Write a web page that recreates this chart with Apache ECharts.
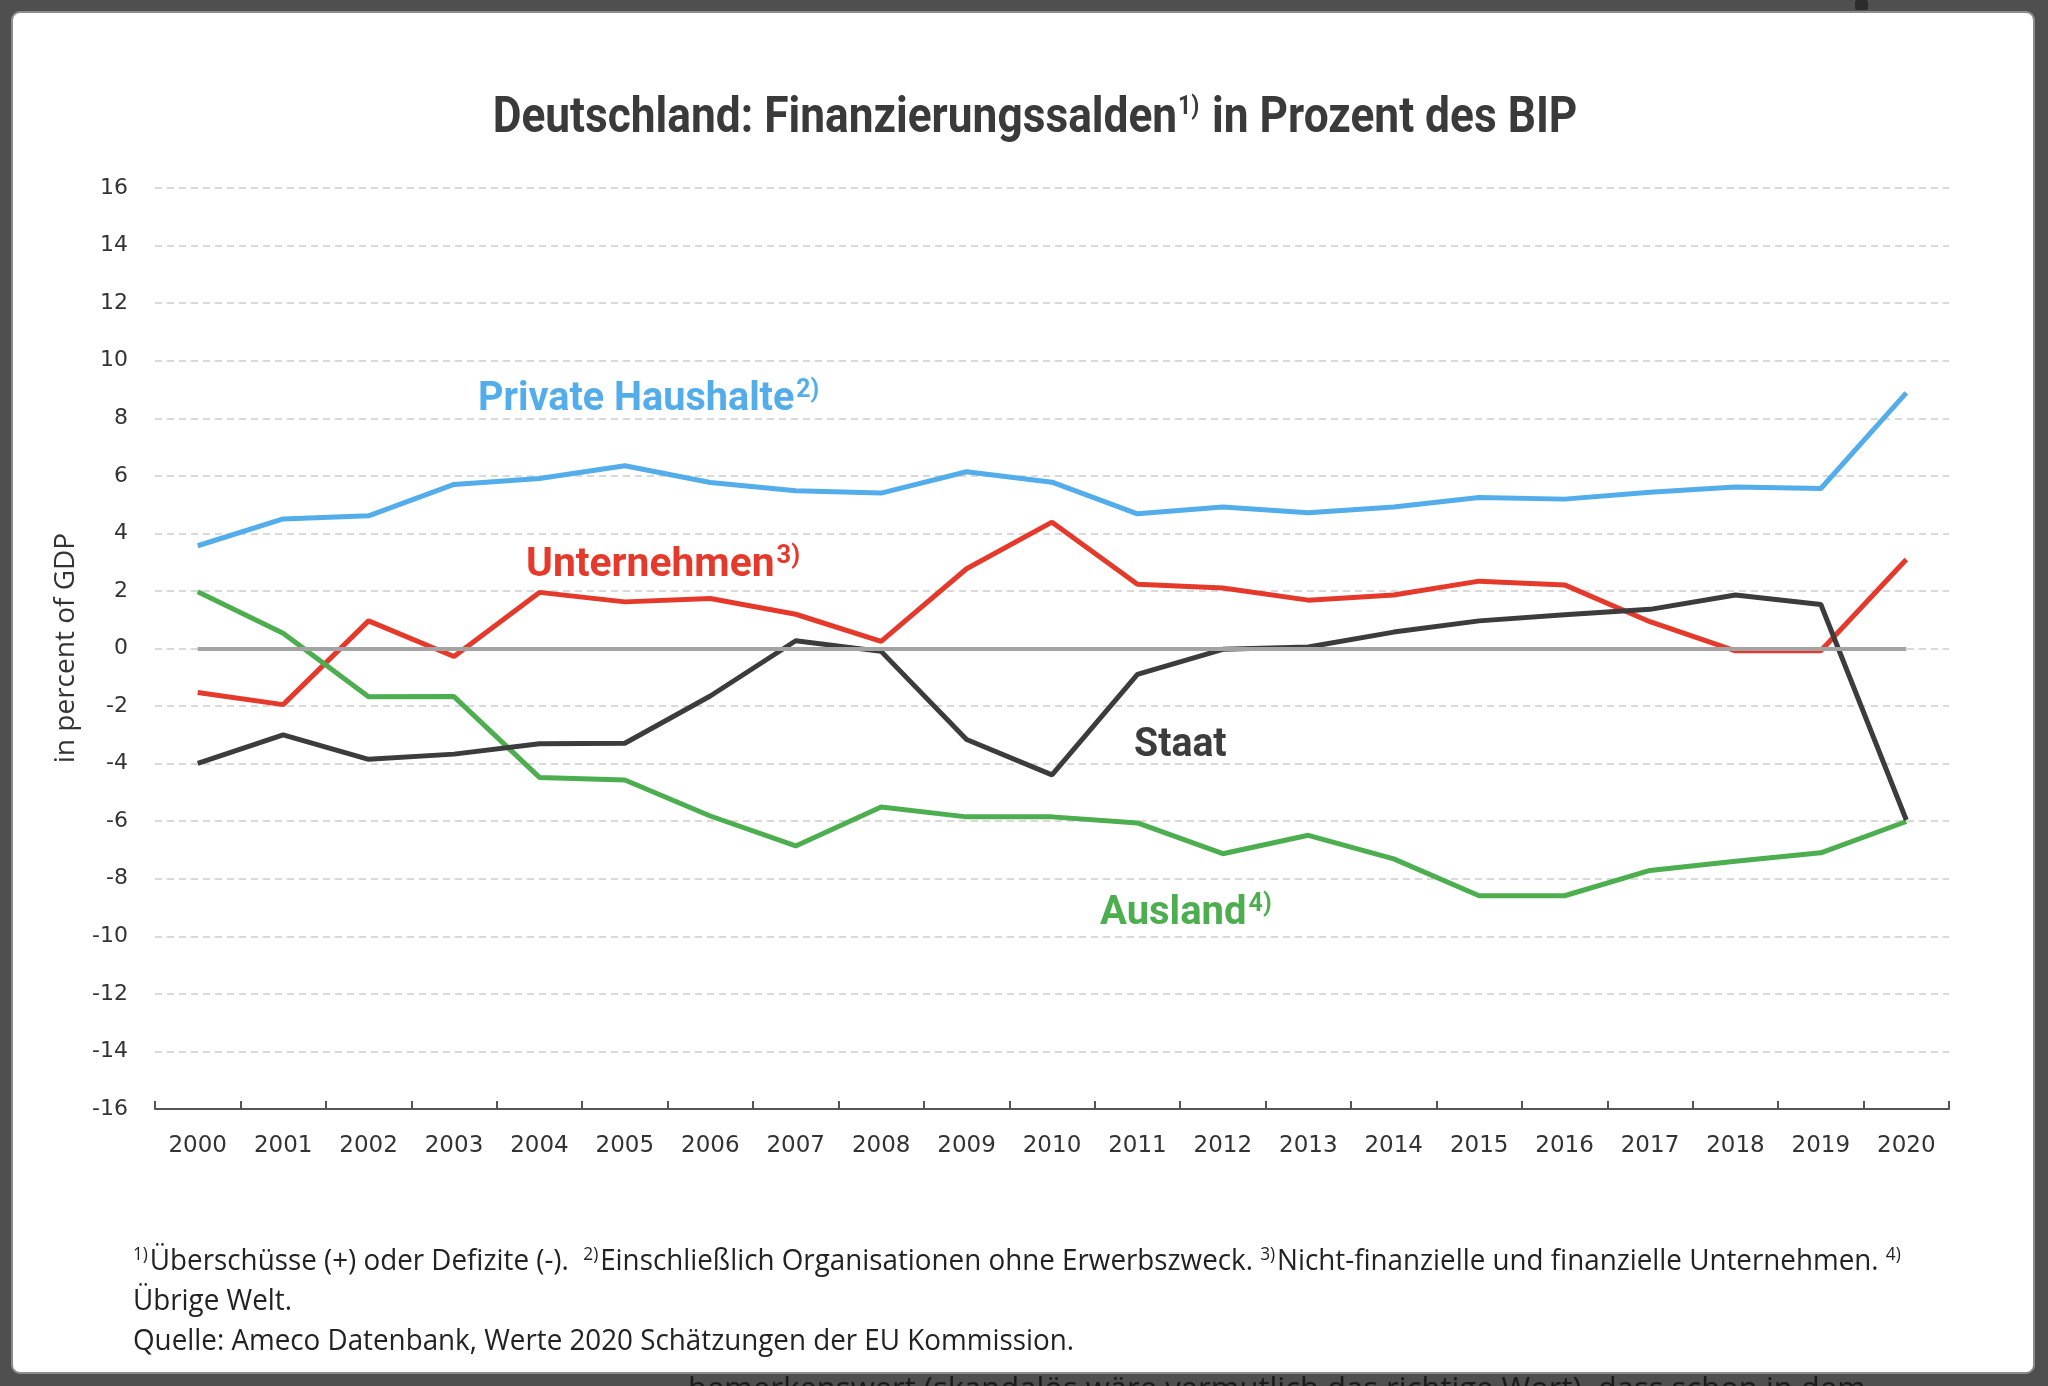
<!DOCTYPE html>
<html>
<head>
<meta charset="utf-8">
<script src="https://cdn.jsdelivr.net/npm/echarts@6/dist/echarts.min.js"></script>
<style>
html,body{margin:0;padding:0;background:#4f4f4f;}
#chart{width:2048px;height:1386px;}
</style>
</head>
<body>
<div id="chart"></div>
<script>
const years = ['2000','2001','2002','2003','2004','2005','2006','2007','2008','2009','2010','2011','2012','2013','2014','2015','2016','2017','2018','2019','2020'];
const privateHaushalte = [3.57,4.50,4.61,5.70,5.91,6.35,5.77,5.48,5.40,6.14,5.78,4.68,4.92,4.72,4.92,5.25,5.19,5.43,5.61,5.56,8.88];
const unternehmen = [-1.53,-1.95,0.96,-0.28,1.95,1.62,1.74,1.19,0.25,2.77,4.39,2.23,2.10,1.68,1.86,2.34,2.21,0.93,-0.08,-0.08,3.09];
const staat = [-3.99,-3.00,-3.85,-3.67,-3.31,-3.29,-1.65,0.27,-0.10,-3.16,-4.39,-0.90,-0.03,0.05,0.57,0.96,1.17,1.36,1.86,1.53,-5.96];
const ausland = [1.97,0.53,-1.68,-1.67,-4.48,-4.57,-5.82,-6.86,-5.51,-5.85,-5.85,-6.06,-7.13,-6.49,-7.31,-8.59,-8.59,-7.71,-7.39,-7.10,-6.01];
const yTicks = {min:-16, max:16, interval:2};

const BLUE='#52adea', RED='#e53a2b', DARK='#3c3c3c', GREEN='#4cae4f';

const chart = echarts.init(document.getElementById('chart'));
const labelFont = 'Roboto, "Noto Sans", sans-serif';
const noteFont = '"Open Sans", "Noto Sans", sans-serif';

function seriesLabel(x, y, name, sup, color, sx){
  return {
    type:'text', x:x, y:y, scaleX:sx, z:10,
    style:{
      text:'{m|'+name+'}'+(sup?'{s|'+sup+'}':''),
      fill:color, align:'left', verticalAlign:'middle',
      rich:{
        m:{fontFamily:labelFont, fontWeight:'bold', fontSize:40, fill:color},
        s:{fontFamily:labelFont, fontWeight:'bold', fontSize:25, fill:color, verticalAlign:'top', padding:[0,0,18,2]}
      }
    }
  };
}

const option = {
  backgroundColor:'#4f4f4f',
  animation:false,
  grid:{left:155, right:99, top:188, bottom:277, containLabel:false},
  xAxis:{
    type:'category', data:years, boundaryGap:true,
    axisLine:{show:true, onZero:false, lineStyle:{color:'#555', width:2}},
    axisTick:{show:true, inside:true, length:8, interval:0, lineStyle:{color:'#555', width:2}},
    axisLabel:{interval:0, margin:26, color:'#333', fontSize:23, fontFamily:'"DejaVu Sans", sans-serif'},
    splitLine:{show:false}
  },
  yAxis:{
    type:'value', min:yTicks.min, max:yTicks.max, interval:yTicks.interval,
    axisLine:{show:false}, axisTick:{show:false},
    axisLabel:{margin:27, color:'#333', fontSize:22, fontFamily:'"DejaVu Sans", sans-serif'},
    splitLine:{show:true, lineStyle:{color:'#d9d9d9', width:2, type:[7,5]}}
  },
  series:[
    {name:'Private Haushalte', type:'line', data:privateHaushalte, z:2, symbol:'none',
     lineStyle:{color:BLUE, width:5}, itemStyle:{color:BLUE},
     markLine:{silent:true, symbol:'none', label:{show:false}, animation:false,
       lineStyle:{color:'#a3a3a3', width:4, type:'solid'},
       data:[[{coord:[years[0],0]},{coord:[years[years.length-1],0]}]]}},
    {name:'Unternehmen', type:'line', data:unternehmen, z:3, symbol:'none', lineStyle:{color:RED, width:5}, itemStyle:{color:RED}},
    {name:'Staat', type:'line', data:staat, z:4, symbol:'none', lineStyle:{color:DARK, width:5}, itemStyle:{color:DARK}},
    {name:'Ausland', type:'line', data:ausland, z:3, symbol:'none', lineStyle:{color:GREEN, width:5}, itemStyle:{color:GREEN}}
  ],
  graphic:[
    {type:'rect', z:-100, silent:true, shape:{x:12, y:12, width:2022, height:1361, r:8},
     style:{fill:'#ffffff', stroke:'#8c8c8c', lineWidth:2}},
    {type:'rect', z:-99, silent:true, shape:{x:1855, y:0, width:13, height:10, r:2}, style:{fill:'#2c2c2c'}},
    {type:'text', x:1035, y:119, scaleX:0.885, z:10,
     style:{
       text:'{m|Deutschland: Finanzierungssalden}{s|1)}{m| in Prozent des BIP}',
       align:'center', verticalAlign:'middle', fill:'#3a3a3a',
       rich:{
         m:{fontFamily:labelFont, fontWeight:'bold', fontSize:50, fill:'#3a3a3a'},
         s:{fontFamily:labelFont, fontWeight:'bold', fontSize:26, fill:'#3a3a3a', verticalAlign:'top', padding:[0,2,24,1]}
       }
     }},
    {type:'text', x:66, y:648, rotation:Math.PI/2, scaleX:1.0, z:10,
     style:{text:'in percent of GDP', fontFamily:noteFont, fontSize:28, fill:'#333', align:'center', verticalAlign:'middle'}},
    seriesLabel(478, 400, 'Private Haushalte', '2)', BLUE, 0.99),
    seriesLabel(526, 566, 'Unternehmen', '3)', RED, 1.02),
    seriesLabel(1134, 746, 'Staat', '', DARK, 0.98),
    seriesLabel(1100, 914, 'Ausland', '4)', GREEN, 1.0),
    {type:'text', x:133, y:1262, scaleX:0.958, z:10,
     style:{
       text:'{s|1)}{n|Überschüsse (+) oder Defizite (-).  }{s|2)}{n|Einschließlich Organisationen ohne Erwerbszweck. }{s|3)}{n|Nicht-finanzielle und finanzielle Unternehmen. }{s|4)}',
       align:'left', verticalAlign:'middle', fill:'#222',
       rich:{
         n:{fontFamily:noteFont, fontSize:29, fill:'#222'},
         s:{fontFamily:noteFont, fontSize:18, fill:'#222', verticalAlign:'top', padding:[0,2,15,0]}
       }
     }},
    {type:'text', x:133, y:1302, scaleX:0.958, z:10,
     style:{text:'Übrige Welt.', fontFamily:noteFont, fontSize:29, fill:'#222', align:'left', verticalAlign:'middle'}},
    {type:'text', x:133, y:1342, scaleX:0.958, z:10,
     style:{text:'Quelle: Ameco Datenbank, Werte 2020 Schätzungen der EU Kommission.', fontFamily:noteFont, fontSize:29, fill:'#222', align:'left', verticalAlign:'middle'}},
    {type:'text', x:688, y:1375, scaleX:1.0, z:-98,
     style:{text:'bemerkenswert (skandalös wäre vermutlich das richtige Wort), dass schon in dem', fontFamily:noteFont, fontSize:31, fill:'#1a1a1a', align:'left', verticalAlign:'top'}}
  ]
};
chart.setOption(option);
</script>
</body>
</html>
